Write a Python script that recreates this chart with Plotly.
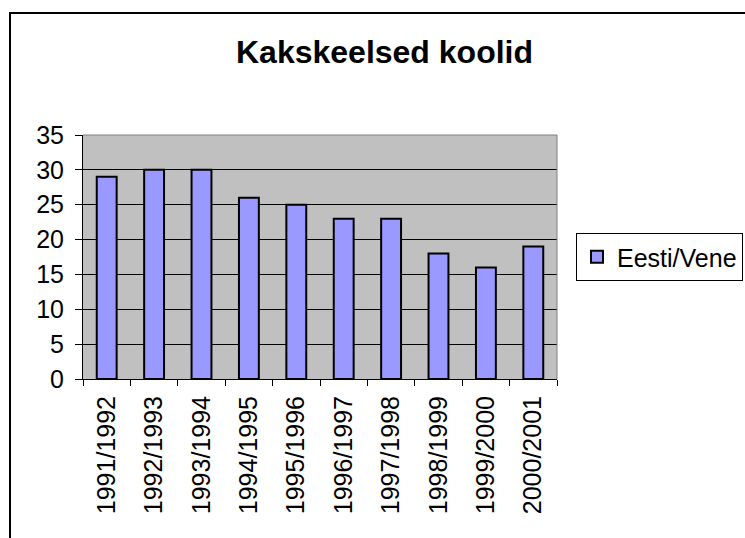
import plotly.graph_objects as go

categories = ["1991/1992", "1992/1993", "1993/1994", "1994/1995", "1995/1996",
              "1996/1997", "1997/1998", "1998/1999", "1999/2000", "2000/2001"]
values = [29, 30, 30, 26, 25, 23, 23, 18, 16, 19]
series_name = "Eesti/Vene"
title_text = "Kakskeelsed koolid"
y_ticks = [0, 5, 10, 15, 20, 25, 30, 35]

W, H = 745, 538
L, R, T, B = 83, 557, 135, 379
pw, ph = R - L, B - T

def px_x(x):
    return (x - L) / pw

def px_y(y):
    return (B - y) / ph

FONT = "Arial, Liberation Sans, sans-serif"

fig = go.Figure()
fig.add_trace(go.Bar(
    x=categories, y=values, name=series_name,
    marker=dict(color="#9999FF", line=dict(color="black", width=2)),
    showlegend=True,
))

fig.update_layout(
    width=W, height=H,
    margin=dict(l=L, r=W - R, t=T, b=H - B, pad=0),
    paper_bgcolor="white",
    plot_bgcolor="#C0C0C0",
    bargap=0.58,
    font=dict(family=FONT, size=25, color="black"),
    title=dict(text="<b>" + title_text + "</b>", x=384.5 / W, xanchor="center",
               xref="container", y=1 - 52 / H, yref="container", yanchor="middle",
               font=dict(family=FONT, size=32, color="black")),
    legend=dict(xref="container", yref="container",
                x=576 / W, xanchor="left", y=1 - 257 / H, yanchor="middle",
                bordercolor="black", borderwidth=1, bgcolor="white",
                font=dict(family=FONT, size=25, color="black")),
    xaxis=dict(showgrid=False, showline=True, linecolor="black", linewidth=1,
               ticks="outside", tickson="boundaries", ticklen=6, tickcolor="black",
               tickangle=-90, tickfont=dict(size=25), zeroline=False,
               ticklabelstandoff=6),
    yaxis=dict(range=[0, 35], tickvals=y_ticks, showgrid=True, gridcolor="black",
               gridwidth=1, showline=True, linecolor="black", linewidth=1,
               ticks="outside", ticklen=7, tickcolor="black", zeroline=False,
               tickfont=dict(size=25), ticklabelstandoff=6),
)

# plot area top/right border (gray)
fig.add_shape(type="line", xref="paper", yref="paper", x0=0, x1=1, y0=1, y1=1,
              line=dict(color="#808080", width=1), layer="above")
fig.add_shape(type="line", xref="paper", yref="paper", x0=1, x1=1, y0=0, y1=1,
              line=dict(color="#808080", width=1), layer="above")
# outer chart border: only left and top edges fall inside the visible window
fig.add_shape(type="line", xref="paper", yref="paper",
              x0=px_x(10), x1=px_x(10), y0=px_y(H + 10), y1=px_y(13),
              line=dict(color="black", width=2), layer="above")
fig.add_shape(type="line", xref="paper", yref="paper",
              x0=px_x(9), x1=px_x(W + 10), y0=px_y(13), y1=px_y(13),
              line=dict(color="black", width=2), layer="above")

fig.write_html(
    "out.html",
    config={"displayModeBar": False},
    post_script=(
        "document.documentElement.style.overflow='hidden';"
        "document.body.style.overflow='hidden';"
        "document.body.style.margin='0';"
    ),
)
